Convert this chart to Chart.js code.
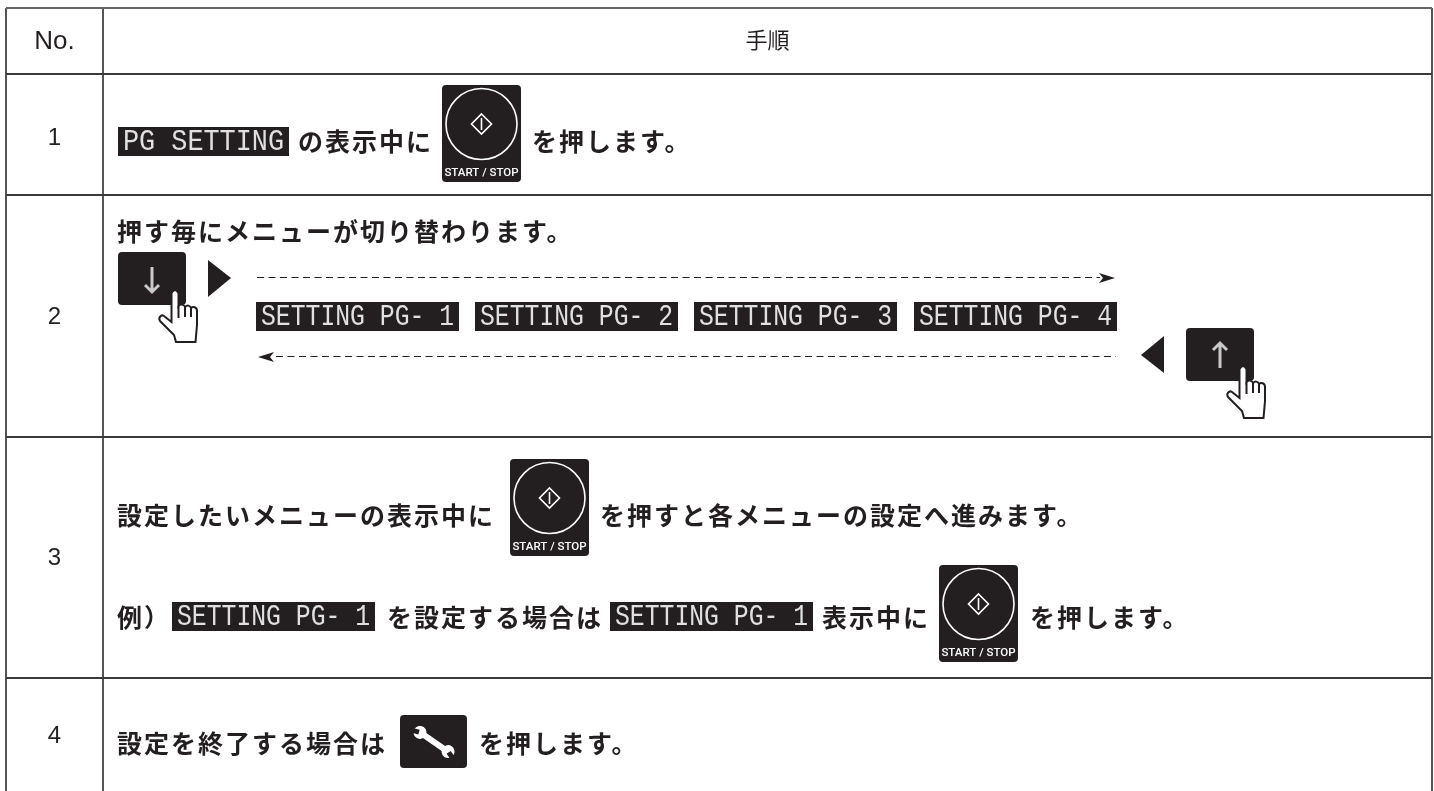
<!DOCTYPE html>
<html lang="ja">
<head>
<meta charset="utf-8">
<title>手順</title>
<script src="https://cdn.jsdelivr.net/npm/chart.js@4"></script>
<style>
  html, body { margin: 0; padding: 0; background: #fff; overflow: hidden; }
  canvas { display: block; }
</style>
</head>
<body>
<canvas id="myChart" width="1434" height="791"></canvas>
<script>
// table content
const headers = ["No.", "手順"];
const rowNumbers = ["1", "2", "3", "4"];
const rowNumberY = [138, 317, 558, 736];
const colEdges = [6, 103, 1432];
const rowEdges = [8, 74, 195, 437, 678, 791];
const menuLabels = ["SETTING PG- 1", "SETTING PG- 2", "SETTING PG- 3", "SETTING PG- 4"];
const idleLabel = "PG SETTING";
const step1Texts = ["の表示中に", "を押します。"];
const step2Texts = ["押す毎にメニューが切り替わります。"];
const step3Texts = ["設定したいメニューの表示中に", "を押すと各メニューの設定へ進みます。"];
const step3bTexts = ["例）", "を設定する場合は", "表示中に", "を押します。"];
const step4Texts = ["設定を終了する場合は", "を押します。"];
const startStopLabel = "START / STOP";

const INK = "#231f20";

// where each piece sits, in scale units
const textRuns = [
  [step1Texts[0], 298, 141], [step1Texts[1], 532, 141],
  [step2Texts[0], 117, 231],
  [step3Texts[0], 117, 515], [step3Texts[1], 600, 515],
  [step3bTexts[0], 117, 617], [step3bTexts[1], 387, 617], [step3bTexts[2], 822, 617], [step3bTexts[3], 1030, 617],
  [step4Texts[0], 117, 743], [step4Texts[1], 479, 743],
];
const badges = [
  [idleLabel, 118, 127, 171],
  [menuLabels[0], 256, 302, 203], [menuLabels[1], 475, 302, 203],
  [menuLabels[2], 694, 302, 203], [menuLabels[3], 914, 302, 203],
  [menuLabels[0], 172, 602, 203], [menuLabels[0], 610, 602, 203],
];
const startKeys = [[442, 85], [510, 459], [939, 565]];

function roundBox(ctx, x, y, w, h, r, fill) {
  ctx.beginPath();
  ctx.roundRect(x, y, w, h, r);
  ctx.fillStyle = fill;
  ctx.fill();
}

function triangle(ctx, x1, y1, x2, y2, x3, y3) {
  ctx.beginPath();
  ctx.moveTo(x1, y1);
  ctx.lineTo(x2, y2);
  ctx.lineTo(x3, y3);
  ctx.closePath();
  ctx.fillStyle = INK;
  ctx.fill();
}

// fits the label to the badge width so the cells line up like the display
function drawBadge(ctx, label, x, y, w) {
  ctx.fillStyle = INK;
  ctx.fillRect(x, y, w, 29);
  ctx.save();
  ctx.translate(x + 5, y + 15);
  ctx.scale((w - 10) / (label.length * 18), 1);
  ctx.font = "30px 'Liberation Mono'";
  ctx.textAlign = "left";
  ctx.textBaseline = "middle";
  ctx.fillStyle = "#e0e0e0";
  ctx.fillText(label, 0, 0);
  ctx.restore();
}

function drawStartKey(ctx, x, y) {
  roundBox(ctx, x, y, 79, 97, 4, INK);
  const cx = x + 39.5, cy = y + 39;
  ctx.strokeStyle = "#fff";
  ctx.lineWidth = 1.6;
  ctx.beginPath();
  ctx.arc(cx, cy, 35.5, 0, Math.PI * 2);
  ctx.stroke();
  ctx.beginPath();
  ctx.moveTo(cx, cy - 10);
  ctx.lineTo(cx + 10, cy);
  ctx.lineTo(cx, cy + 10);
  ctx.lineTo(cx - 10, cy);
  ctx.closePath();
  ctx.moveTo(cx, cy - 6);
  ctx.lineTo(cx, cy + 6);
  ctx.stroke();
  ctx.font = "500 11.5px Roboto";
  ctx.textAlign = "center";
  ctx.textBaseline = "middle";
  ctx.fillStyle = "#fff";
  ctx.fillText(startStopLabel, cx, y + 88);
}

function drawHand(ctx, tipX, tipY) {
  ctx.save();
  ctx.translate(tipX, tipY);
  ctx.beginPath();
  ctx.moveTo(-3.5, 3);
  ctx.quadraticCurveTo(0, -3, 3.5, 3);
  ctx.lineTo(3.5, 16);
  ctx.bezierCurveTo(5, 14, 9, 14, 10, 17);
  ctx.bezierCurveTo(12, 15, 15, 15, 16, 18);
  ctx.bezierCurveTo(18, 16, 22, 17, 22, 21);
  ctx.lineTo(22, 35);
  ctx.lineTo(20.5, 52);
  ctx.lineTo(1, 52);
  ctx.lineTo(-1, 45);
  ctx.lineTo(-15, 31);
  ctx.bezierCurveTo(-17, 28, -14, 24, -11, 26);
  ctx.lineTo(-3.5, 32);
  ctx.closePath();
  ctx.fillStyle = "#fff";
  ctx.fill();
  ctx.strokeStyle = INK;
  ctx.lineWidth = 2;
  ctx.stroke();
  ctx.beginPath();
  ctx.moveTo(3.5, 16); ctx.lineTo(3.5, 28);
  ctx.moveTo(10, 17); ctx.lineTo(10, 27);
  ctx.moveTo(16, 18); ctx.lineTo(16, 27);
  ctx.stroke();
  ctx.restore();
}

function drawArrowKey(ctx, x, y, up) {
  roundBox(ctx, x, y, 68, 53, 4, INK);
  const cx = x + 34, top = y + 15, bottom = y + 40;
  ctx.strokeStyle = "#c9c9c9";
  ctx.lineWidth = 3;
  ctx.beginPath();
  ctx.moveTo(cx, top);
  ctx.lineTo(cx, bottom);
  if (up) {
    ctx.moveTo(cx - 7, top + 7); ctx.lineTo(cx, top); ctx.lineTo(cx + 7, top + 7);
  } else {
    ctx.moveTo(cx - 7, bottom - 7); ctx.lineTo(cx, bottom); ctx.lineTo(cx + 7, bottom - 7);
  }
  ctx.stroke();
  drawHand(ctx, x + 57, y + 38);
}

function drawDashes(ctx, x1, x2, y) {
  ctx.save();
  ctx.strokeStyle = INK;
  ctx.lineWidth = 1.2;
  ctx.setLineDash([7, 4.5]);
  ctx.beginPath();
  ctx.moveTo(x1, y + 0.5);
  ctx.lineTo(x2, y + 0.5);
  ctx.stroke();
  ctx.restore();
}

// small notched arrow head at the end of a dashed line
function arrowHead(ctx, tipX, y, dir) {
  ctx.beginPath();
  ctx.moveTo(tipX, y);
  ctx.lineTo(tipX - dir * 16, y - 5);
  ctx.lineTo(tipX - dir * 12, y);
  ctx.lineTo(tipX - dir * 16, y + 5);
  ctx.closePath();
  ctx.fillStyle = INK;
  ctx.fill();
}

function drawWrench(ctx, x, y) {
  roundBox(ctx, x, y, 67, 53, 4, INK);
  ctx.save();
  ctx.translate(x + 34, y + 27);
  ctx.rotate(0.6);
  ctx.fillStyle = "#fff";
  ctx.fillRect(-14, -3, 28, 6);
  [-17, 17].forEach(function (hx) {
    ctx.beginPath();
    ctx.arc(hx, 0, 6.5, 0, Math.PI * 2);
    ctx.fillStyle = "#fff";
    ctx.fill();
    ctx.save();
    ctx.translate(hx, 0);
    ctx.rotate(hx < 0 ? -0.35 : 0.35);
    ctx.fillStyle = INK;
    ctx.fillRect(hx < 0 ? -8 : 1, -2.5, 7, 5);
    ctx.restore();
  });
  ctx.restore();
}

const tableMarks = {
  id: "tableMarks",
  afterDatasetsDraw(chart) {
    const ctx = chart.ctx;
    const X = (v) => chart.scales.x.getPixelForValue(v);
    const Y = (v) => chart.scales.y.getPixelForValue(v);

    // No. column and header, placed on the dataset points
    ctx.save();
    ctx.fillStyle = INK;
    ctx.textAlign = "center";
    ctx.textBaseline = "middle";
    ctx.font = "26px 'Liberation Sans'";
    const head = chart.getDatasetMeta(1).data;
    ctx.fillText(headers[0], head[0].x, head[0].y + 1);
    ctx.font = "24px 'Liberation Sans'";
    chart.getDatasetMeta(0).data.forEach(function (pt, i) {
      ctx.fillText(rowNumbers[i], pt.x, pt.y);
    });
    ctx.font = "22px 'Noto Sans CJK JP'";
    ctx.fillText(headers[1], head[1].x, head[1].y - 1);

    // step sentences
    ctx.textAlign = "left";
    ctx.font = "bold 25px 'Noto Sans CJK JP'";
    ctx.letterSpacing = "2px";
    textRuns.forEach(function (r) {
      ctx.fillText(r[0], X(r[1]), Y(r[2]));
    });
    ctx.letterSpacing = "0px";
    ctx.restore();

    badges.forEach((b) => drawBadge(ctx, b[0], X(b[1]), Y(b[2]), b[3]));
    startKeys.forEach((k) => drawStartKey(ctx, X(k[0]), Y(k[1])));

    // row 2 keys and arrows
    drawArrowKey(ctx, X(118), Y(252), false);
    triangle(ctx, X(208), Y(260), X(231), Y(278), X(208), Y(297));
    drawArrowKey(ctx, X(1186), Y(328), true);
    triangle(ctx, X(1164), Y(336), X(1141), Y(355), X(1164), Y(373));
    drawDashes(ctx, X(257), X(1100), Y(277));
    arrowHead(ctx, X(1115), Y(278), 1);
    drawDashes(ctx, X(276), X(1116), Y(356));
    arrowHead(ctx, X(258), Y(357), -1);

    drawWrench(ctx, X(400), Y(715));
  },
};

const ctx = document.getElementById("myChart").getContext("2d");
const numberX = (colEdges[0] + colEdges[1]) / 2;
const stepX = (colEdges[1] + colEdges[2]) / 2;
const lastRow = rowEdges.length - 1;

new Chart(ctx, {
  type: "scatter",
  data: {
    datasets: [
      {
        label: "rows",
        data: rowNumbers.map((_, i) => ({ x: numberX, y: rowNumberY[i] })),
        pointRadius: 0,
      },
      {
        label: "header",
        data: [
          { x: numberX, y: (rowEdges[0] + rowEdges[1]) / 2 },
          { x: stepX, y: (rowEdges[0] + rowEdges[1]) / 2 },
        ],
        pointRadius: 0,
      },
    ],
  },
  options: {
    responsive: false,
    animation: false,
    events: [],
    layout: { padding: { left: 6, top: 8, right: 2, bottom: 0 } },
    plugins: { legend: { display: false }, tooltip: { enabled: false } },
    scales: {
      x: {
        type: "linear",
        min: colEdges[0],
        max: colEdges[2],
        afterBuildTicks: (axis) => { axis.ticks = colEdges.map((v) => ({ value: v })); },
        ticks: { display: false, autoSkip: false },
        border: { display: false },
        grid: { color: "#555555", lineWidth: 2, drawTicks: false },
      },
      y: {
        type: "linear",
        reverse: true,
        min: rowEdges[0],
        max: rowEdges[lastRow],
        afterBuildTicks: (axis) => { axis.ticks = rowEdges.map((v) => ({ value: v })); },
        ticks: { display: false, autoSkip: false },
        border: { display: false },
        grid: {
          color: (c) => (c.index === lastRow ? "rgba(0,0,0,0)" : c.index === 0 ? "#666666" : "#3a3a3a"),
          lineWidth: 2,
          drawTicks: false,
        },
      },
    },
  },
  plugins: [tableMarks],
});
</script>
</body>
</html>
